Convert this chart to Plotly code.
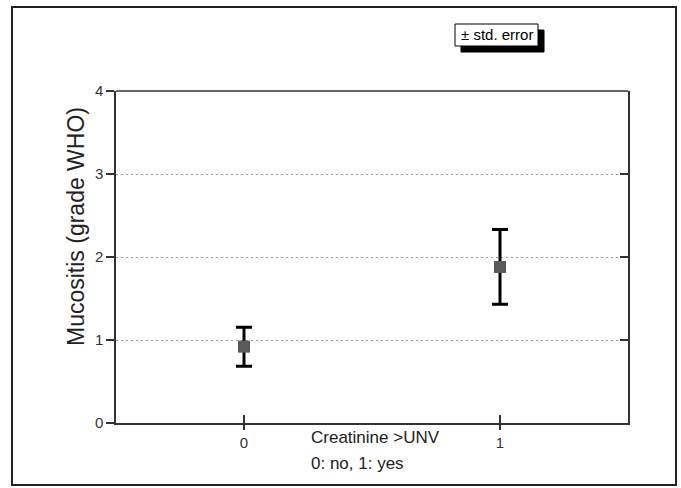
import plotly.graph_objects as go

groups = [0, 1]
means = [0.92, 1.88]
std_errors = [0.235, 0.45]
y_ticks = [0, 1, 2, 3, 4]

W, H = 681, 488
L, R, T, B = 116, 53, 91, 65
pw, ph = W - L - R, H - T - B

def px(x):
    return (x - L) / pw

def py(y):
    return (H - B - y) / ph

fig = go.Figure()
fig.add_trace(go.Scatter(
    x=groups, y=means, mode="markers",
    marker=dict(symbol="square", size=12, color="#5a5a5a"),
    error_y=dict(type="data", array=std_errors, visible=True,
                 color="black", thickness=3, width=8),
    showlegend=False,
))
fig.add_trace(go.Scatter(x=groups, y=means, xaxis="x2", yaxis="y2",
                         mode="markers", marker=dict(opacity=0),
                         showlegend=False, hoverinfo="skip"))

font = "Liberation Sans, Arial, sans-serif"
fig.update_layout(
    width=W, height=H,
    margin=dict(l=L, r=R, t=T, b=B),
    paper_bgcolor="white", plot_bgcolor="white",
    font=dict(family=font, color="#222222"),
    xaxis=dict(range=[-0.5, 1.5], tickvals=groups, ticktext=["0", "1"],
               ticks="outside", ticklen=5, tickwidth=1.5, tickcolor="#333",
               showline=True, linecolor="#333", linewidth=1.5,
               showgrid=False, zeroline=False, tickfont=dict(size=15, color="#333")),
    xaxis2=dict(range=[-0.5, 1.5], overlaying="x", side="bottom",
                tickvals=groups, ticks="inside", ticklen=8, tickwidth=1.5,
                tickcolor="#333", showticklabels=False, showline=False,
                showgrid=False, zeroline=False),
    yaxis=dict(range=[0, 4], tickvals=y_ticks, ticks="outside", ticklen=8,
               tickwidth=1.5, tickcolor="#333",
               showline=True, linecolor="#333", linewidth=1.5,
               showgrid=True, gridcolor="#999999", griddash="2px,3px", gridwidth=1,
               zeroline=False, tickfont=dict(size=15, color="#333")),
    yaxis2=dict(range=[0, 4], overlaying="y", side="right", anchor="x",
                tickvals=[1, 2, 3], ticks="inside", ticklen=8, tickwidth=1.5,
                tickcolor="#333", showticklabels=False, showline=True,
                linecolor="#333", linewidth=1.5, showgrid=False, zeroline=False),
)

shapes = [
    dict(type="line", xref="paper", yref="paper", x0=0, x1=1, y0=1, y1=1,
         line=dict(color="#333", width=1.5)),
    dict(type="rect", xref="paper", yref="paper",
         x0=px(12), x1=px(676), y0=py(485), y1=py(7),
         line=dict(color="#222", width=2)),
    dict(type="rect", xref="paper", yref="paper", layer="below",
         x0=px(461), x1=px(544), y0=py(52), y1=py(30),
         fillcolor="black", line=dict(color="black", width=1)),
    dict(type="rect", xref="paper", yref="paper", layer="below",
         x0=px(455), x1=px(538), y0=py(46), y1=py(24),
         fillcolor="white", line=dict(color="black", width=1)),
]
fig.update_layout(shapes=shapes)

fig.add_annotation(text="± std. error", xref="paper", yref="paper",
                   x=px(496.5), y=py(35), xanchor="center", yanchor="middle",
                   showarrow=False,
                   font=dict(size=15, color="black", family=font))
fig.add_annotation(text="Mucositis (grade WHO)", xref="paper", yref="paper",
                   x=px(76), y=py(227), xanchor="center", yanchor="middle",
                   textangle=-90, showarrow=False,
                   font=dict(size=23, color="#222", family=font))
fig.add_annotation(text="Creatinine >UNV", xref="paper", yref="paper",
                   x=px(309), y=py(437), xanchor="left", yanchor="middle",
                   showarrow=False, font=dict(size=17, color="#222", family=font))
fig.add_annotation(text="0: no, 1: yes", xref="paper", yref="paper",
                   x=px(309), y=py(463), xanchor="left", yanchor="middle",
                   showarrow=False, font=dict(size=17, color="#222", family=font))

fig.write_html("out.html", config={"displayModeBar": False},
               post_script="document.body.style.margin='0';")
